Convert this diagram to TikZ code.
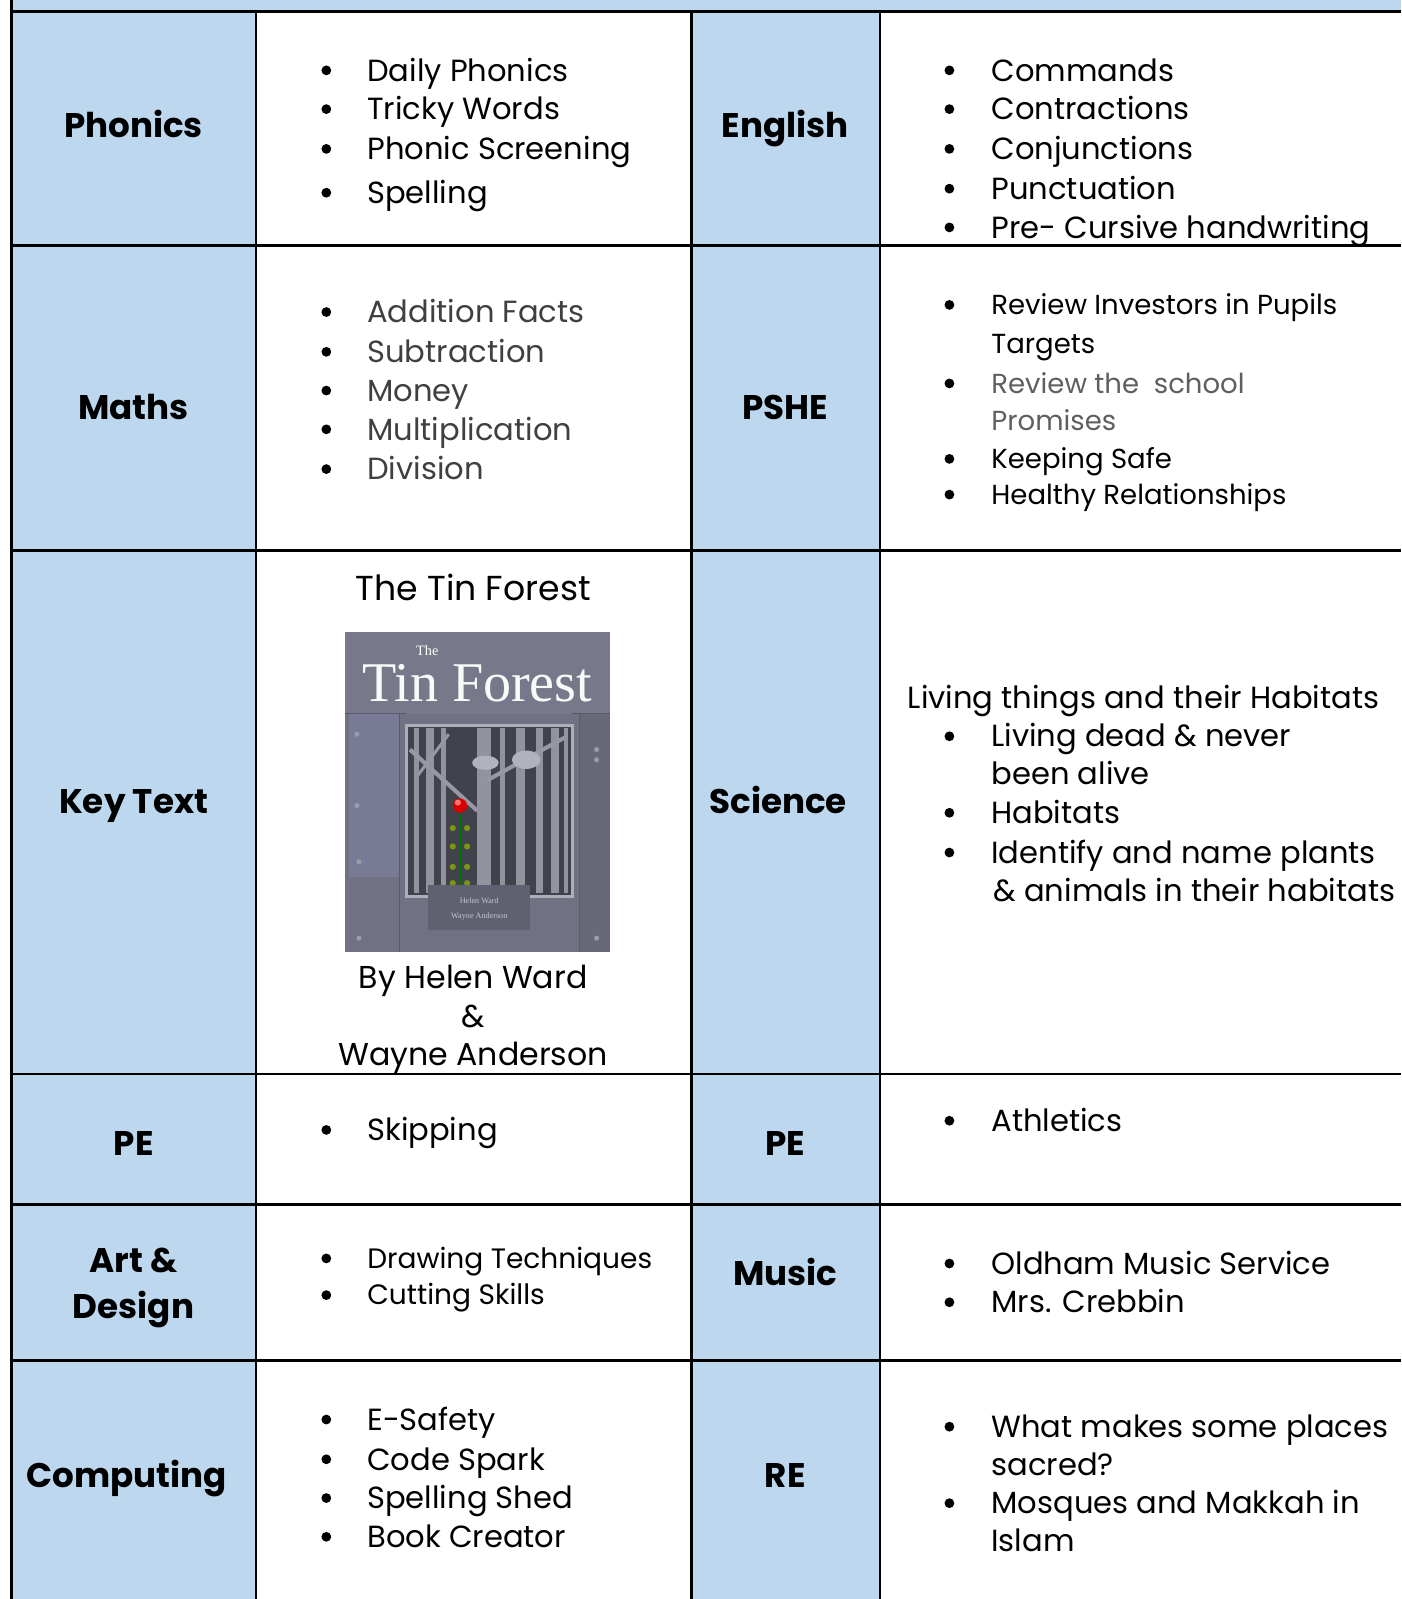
\documentclass[tikz,border=0pt]{standalone}
\usepackage{fontspec}
\setmainfont{Poppins}
\newfontfamily\coverfont{Liberation Serif}
\definecolor{cellblue}{RGB}{189,215,238}
\definecolor{greyA}{RGB}{64,64,64}
\definecolor{greyB}{RGB}{95,95,95}
\definecolor{coverbg}{RGB}{112,114,132}
\definecolor{coverdark}{RGB}{66,66,76}
\definecolor{coverlight}{RGB}{172,174,186}
\begin{document}
\begin{tikzpicture}[x=1pt,y=-1pt,
  lab/.style={font=\bfseries\fontsize{33.5}{40}\selectfont, inner sep=0pt, anchor=base, yshift=-12pt},
  itm/.style={anchor=base west, yshift=-10.5pt, inner sep=0pt, font=\fontsize{30}{36}\selectfont},
  sitm/.style={anchor=base west, yshift=-9.5pt, inner sep=0pt, font=\fontsize{27}{32}\selectfont},
  ctr/.style={anchor=base, yshift=-10.5pt, inner sep=0pt, font=\fontsize{31}{36}\selectfont},
  grid/.style={line width=2.6pt, black}]
\useasboundingbox (0,0) rectangle (1374,1568);
\fill[white] (0,0) rectangle (1374,1568);
% blue fills
\fill[cellblue] (11,0) rectangle (1374,11);
\fill[cellblue] (11,11) rectangle (251,1568);
\fill[cellblue] (678,11) rectangle (863,1568);
% grid
\foreach \yy in {11,241,540,1053,1181,1334} \draw[grid] (11,\yy) -- (1374,\yy);
\draw[grid] (11,0) -- (11,1568);
\foreach \xx in {251,678,863} \draw[grid] (\xx,11) -- (\xx,1568);

% labels
\node[lab] (lphon) at (131,123) {Phonics};
\node[lab] (leng) at (770,123) {English};
\node[lab] (lmath) at (131,399) {Maths};
\node[lab] (lpshe) at (770,399) {PSHE};
\node[lab] (lkey) at (131,786) {Key Text};
\node[lab] (lsci) at (763,786) {Science};
\node[lab] (lpe1) at (131,1121) {PE};
\node[lab] (lpe2) at (770,1121) {PE};
\node[lab] (lart1) at (131,1236) {Art \&};
\node[lab] (lart2) at (131,1281) {Design};
\node[lab] (lmus) at (770,1249) {Music};
\node[lab] (lcomp) at (124,1447) {Computing};
\node[lab] (lre) at (770,1447) {RE};

% bullets left column
\foreach \yy in {69,107,146,189, 306,345,383,421,460, 1108, 1234,1270, 1392,1431,1469,1507}
  \fill (320,\yy) circle (4.8pt);
% bullets right column
\foreach \yy in {69,107,146,185,223, 299,376,450,485, 722,797,836, 1099, 1239,1277, 1399,1474}
  \fill (931,\yy) circle (4.8pt);

% Phonics
\node[itm] (p1) at (360,69) {Daily Phonics};
\node[itm] (p2) at (360,107) {Tricky Words};
\node[itm] (p3) at (360,146) {Phonic Screening};
\node[itm] (p4) at (360,189) {Spelling};
% English
\node[itm] (e1) at (972,69) {Commands};
\node[itm] (e2) at (972,107) {Contractions};
\node[itm] (e3) at (972,146) {Conjunctions};
\node[itm] (e4) at (972,185) {Punctuation};
\node[itm] (e5) at (972,223) {Pre- Cursive handwriting};
% Maths
\node[itm,text=greyA] (m1) at (360,306) {Addition Facts};
\node[itm,text=greyA] (m2) at (360,345) {Subtraction};
\node[itm,text=greyA] (m3) at (360,383) {Money};
\node[itm,text=greyA] (m4) at (360,421) {Multiplication};
\node[itm,text=greyA] (m5) at (360,460) {Division};
% PSHE
\node[sitm] (s1) at (972,299) {Review Investors in Pupils};
\node[sitm] (s2) at (972,337) {Targets};
\node[sitm,text=greyB] (s3) at (972,376) {Review the\ \ school};
\node[sitm,text=greyB] (s4) at (972,413) {Promises};
\node[sitm] (s5) at (972,450) {Keeping Safe};
\node[sitm] (s6) at (972,485) {Healthy Relationships};
% Key text
\node[ctr,font=\fontsize{34}{40}\selectfont] (kt) at (464,578) {The Tin Forest};
\node[ctr] (k1) at (464,959) {By Helen Ward};
\node[ctr] (k2) at (464,997) {\&};
\node[ctr] (k3) at (464,1034) {Wayne Anderson};
% Science
\node[itm] (sc0) at (890,684) {Living things and their Habitats};
\node[itm] (sc1) at (972,722) {Living dead \& never};
\node[itm] (sc2) at (972,759) {been alive};
\node[itm] (sc3) at (972,797) {Habitats};
\node[itm] (sc4) at (972,836) {Identify and name plants};
\node[itm] (sc5) at (974,874) {\& animals in their habitats};
% PE
\node[itm] (pe1) at (360,1108) {Skipping};
\node[itm] (pe2) at (972,1099) {Athletics};
% Art
\node[sitm,font=\fontsize{27.5}{32}\selectfont] (a1) at (360,1234) {Drawing Techniques};
\node[sitm,font=\fontsize{27.5}{32}\selectfont] (a2) at (360,1270) {Cutting Skills};
% Music
\node[itm] (mu1) at (972,1239) {Oldham Music Service};
\node[itm] (mu2) at (972,1277) {Mrs. Crebbin};
% Computing
\node[itm] (c1) at (360,1392) {E-Safety};
\node[itm] (c2) at (360,1431) {Code Spark};
\node[itm] (c3) at (360,1469) {Spelling Shed};
\node[itm] (c4) at (360,1507) {Book Creator};
% RE
\node[itm] (r1) at (972,1399) {What makes some places};
\node[itm] (r2) at (972,1436) {sacred?};
\node[itm] (r3) at (972,1474) {Mosques and Makkah in};
\node[itm] (r4) at (972,1511) {Islam};

% book cover
\fill[coverbg] (338,620) rectangle (598,934);
\fill[coverbg!95!blue!90!white] (342,700) rectangle (392,860);
\fill[coverbg!92!black] (568,700) rectangle (598,934);
\fill[coverbg!95!white] (338,620) rectangle (598,700);
\draw[coverbg!80!black, line width=1pt] (338,700) -- (398,700) (561,700) -- (598,700) (392,700) -- (392,934) (568,700) -- (568,934);
\foreach \xx/\yy in {350/720,350/790,585/735,585/745,550/740,352/845,352/920,585/920}
  \fill[coverlight!70!coverbg] (\xx,\yy) circle (2.5pt);
\node[text=white, inner sep=0pt, font=\coverfont\fontsize{14}{14}\selectfont] (cthe) at (419,638) {The};
\node[text=white!95!gray, inner sep=0pt, font=\coverfont\fontsize{55}{55}\selectfont] (ctitle) at (468,670) {Tin Forest};
\draw[coverlight, line width=3pt, fill=coverdark] (399,711) rectangle (561,879);
\foreach \xx/\w in {406/5,418/8,432/5,468/13,490/5,506/9,526/6,540/8,553/4}
  \fill[coverlight!75!coverdark] (\xx,714) rectangle ++(\w,162);
\draw[coverlight!80!coverdark, line width=4pt] (402,735) -- (468,795);
\draw[coverlight!80!coverdark, line width=3pt] (410,760) -- (440,720);
\draw[coverlight!80!coverdark, line width=4pt] (478,765) -- (556,722);
\fill[coverlight!95!white] (476,748) ellipse (13pt and 7pt);
\fill[coverlight!95!white] (516,745) ellipse (14pt and 9pt);
\draw[green!45!black, line width=2.5pt] (451,798) -- (451,872);
\foreach \yy in {812,830,850,866}
  { \fill[olive!70!green] (444,\yy) circle (3pt); \fill[olive!70!green] (458,\yy) circle (3pt); }
\fill[red!85!black] (451,790) circle (7pt);
\fill[red!55!white] (449,787) circle (3pt);
\fill[coverbg!85!black] (420,868) rectangle (520,912);
\node[text=coverlight!70!white, inner sep=0pt, font=\coverfont\fontsize{8}{8}\selectfont] (cauth1) at (470,883) {Helen Ward};
\node[text=coverlight!70!white, inner sep=0pt, font=\coverfont\fontsize{8}{8}\selectfont] (cauth2) at (470,899) {Wayne Anderson};
\end{tikzpicture}
\end{document}
